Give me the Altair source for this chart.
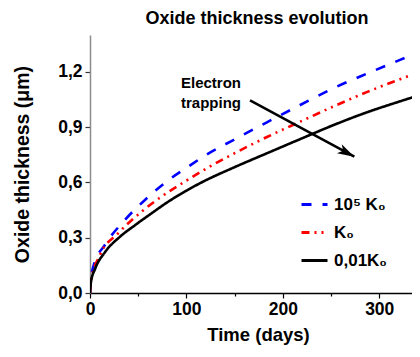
import altair as alt
import pandas as pd

# ---- data ----
days_high = [0, 1, 3.5, 15.6, 36.3, 57, 79.5, 102, 119, 148.7, 183, 218, 252, 287, 321.6, 342]
thick_high = [0, 0.075, 0.145, 0.262, 0.397, 0.505, 0.605, 0.686, 0.745, 0.83, 0.925, 1.02, 1.11, 1.19, 1.265, 1.31]

days_k0 = [0, 1, 10.4, 29.4, 53.6, 74.4, 98.5, 119, 148.7, 183, 218, 252, 287, 321.6, 342]
thick_k0 = [0, 0.065, 0.207, 0.325, 0.442, 0.524, 0.605, 0.67, 0.755, 0.845, 0.93, 1.011, 1.09, 1.16, 1.2]

days_low = [0, 1, 5.2, 15.6, 31, 46.7, 64, 81, 98.5, 117.6, 148.7, 183, 218, 252, 287, 321.6, 342]
thick_low = [0, 0.06, 0.13, 0.222, 0.305, 0.368, 0.433, 0.495, 0.551, 0.605, 0.68, 0.757, 0.835, 0.91, 0.98, 1.04, 1.074]

series_names = ["10\u2075 K\u2080", "K\u2080", "0,01K\u2080"]
series_colors = ["#0000ff", "#ff0000", "#000000"]
series_dashes = [[10, 11], [8, 5, 2, 5, 2, 5], [1, 0]]

note_lines = ["Electron", "trapping"]
note_day = [125.5, 125.5]
note_thick = [1.138, 1.03]

arrow_day = [166, 274.2]
arrow_thick = [1.045, 0.74]

x_ticks = [0, 50, 100, 150, 200, 250, 300]
y_ticks = [0, 0.15, 0.3, 0.45, 0.6, 0.75, 0.9, 1.05, 1.2, 1.35]

rows = []
for name, ds, vs in zip(series_names, [days_high, days_k0, days_low], [thick_high, thick_k0, thick_low]):
    for d, v in zip(ds, vs):
        rows.append({"series": name, "day": d, "thick": v})
df = pd.DataFrame(rows)

FONT = "Liberation Sans"

x_scale = alt.Scale(domain=[0, 334], nice=False, zero=False)
y_scale = alt.Scale(domain=[0, 1.4], nice=False, zero=False)

x_axis = alt.Axis(
    values=x_ticks,
    labelExpr="datum.value % 100 == 0 ? datum.label : ''",
    tickSize={"condition": {"test": "datum.value % 100 == 0", "value": 5}, "value": 3},
    title="Time (days)",
    titleX=168, titleY=41, titleBaseline="middle", titleAlign="center",
    titleFontSize=18.5, labelFontSize=17.5, labelPadding=2,
    domainColor="#000000", domainWidth=1.5, tickColor="#000000", tickWidth=1.2,
    grid=False, labelFlush=False, labelOverlap=False,
)
y_axis = alt.Axis(
    values=y_ticks,
    labelExpr="(round(datum.value*100) % 30 == 0) ? replace(format(datum.value, '.1f'), '.', ',') : ''",
    tickSize={"condition": {"test": "round(datum.value*100) % 30 == 0", "value": 5}, "value": 3},
    title="Oxide thickness (\u03bcm)",
    titleX=-68, titleY=129, titleBaseline="middle", titleAlign="center", titleAngle=-90,
    titleFontSize=19.5, labelFontSize=17.5, labelPadding=3,
    domainColor="#8c8c8c", domainWidth=1.5, tickColor="#333333", tickWidth=1.2,
    grid=False, labelFlush=False, labelOverlap=False,
)

lines = alt.Chart(df).mark_line(strokeWidth=2.6, interpolate="monotone", clip=True).encode(
    x=alt.X("day:Q", scale=x_scale, axis=x_axis),
    y=alt.Y("thick:Q", scale=y_scale, axis=y_axis),
    color=alt.Color("series:N", scale=alt.Scale(domain=series_names, range=series_colors),
                    legend=alt.Legend(title=None, orient="none", legendX=210, legendY=155,
                                      symbolType="stroke", symbolSize=676, symbolStrokeWidth=3,
                                      labelFontSize=17, labelFont=FONT, labelFontWeight="bold",
                                      labelOffset=5, rowPadding=5, padding=0)),
    strokeDash=alt.StrokeDash("series:N", scale=alt.Scale(domain=series_names, range=series_dashes),
                              legend=None),
    detail="series:N",
)

note_df = pd.DataFrame({"text": note_lines, "day": note_day, "thick": note_thick})
note = alt.Chart(note_df).mark_text(font=FONT, fontWeight="bold", fontSize=15, color="#000000").encode(
    x=alt.X("day:Q", scale=x_scale), y=alt.Y("thick:Q", scale=y_scale), text="text:N"
)

arrow_df = pd.DataFrame({"day": [arrow_day[0]], "thick": [arrow_thick[0]],
                         "day2": [arrow_day[1]], "thick2": [arrow_thick[1]]})
arrow = alt.Chart(arrow_df).mark_rule(strokeWidth=2.5, color="#000000").encode(
    x=alt.X("day:Q", scale=x_scale), y=alt.Y("thick:Q", scale=y_scale),
    x2="day2:Q", y2="thick2:Q",
)
head_df = pd.DataFrame({"day": [arrow_day[1]], "thick": [arrow_thick[1]]})
head = alt.Chart(head_df).mark_point(
    shape="M0,0 L-0.6,2 L0,1.5 L0.6,2 Z", size=289, angle=118, filled=True,
    color="#000000", opacity=1, strokeWidth=0,
).encode(x=alt.X("day:Q", scale=x_scale), y=alt.Y("thick:Q", scale=y_scale))

chart = alt.layer(lines, arrow, head, note).properties(
    width=322, height=258,
    title=alt.TitleParams("Oxide thickness evolution", font=FONT, fontSize=18, fontWeight="bold",
                          anchor="middle", offset=7, dx=6, color="#000000"),
    autosize=alt.AutoSizeParams(type="none"),
    padding={"left": 82, "top": 27, "right": 0, "bottom": 52},
).configure(font=FONT).configure_axis(
    labelFont=FONT, titleFont=FONT, labelFontWeight="bold", titleFontWeight="bold",
    labelColor="#000000", titleColor="#000000",
).configure_view(stroke=None)

chart.save("out.html", embed_options={"renderer": "svg", "actions": False})
